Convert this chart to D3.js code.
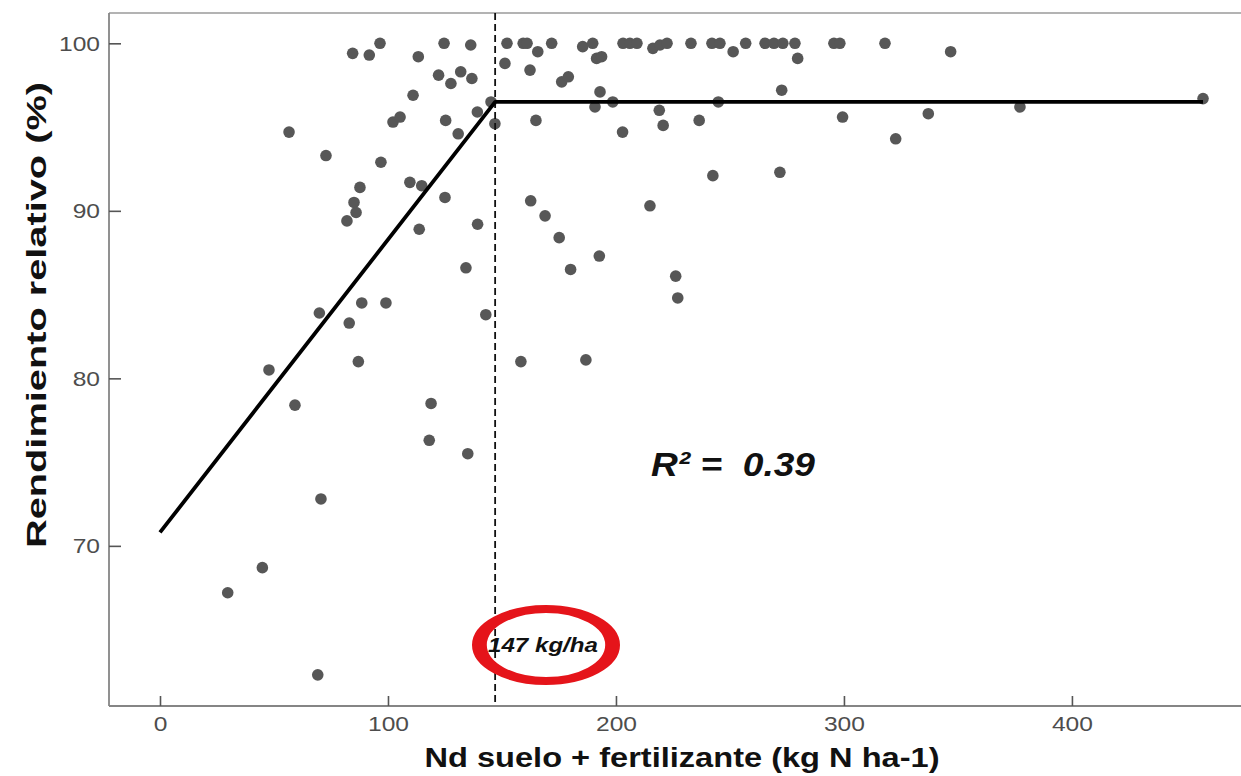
<!DOCTYPE html>
<html>
<head>
<meta charset="utf-8">
<script src="https://cdn.jsdelivr.net/npm/d3@7"></script>
<style>
  html, body { margin: 0; padding: 0; background: #ffffff; }
  svg { display: block; font-family: "Liberation Sans", Arial, Helvetica, sans-serif; }
</style>
</head>
<body>
<svg id="chart" width="1241" height="776"></svg>
<script>
// ---- data ----
const ndValues = [
  84.5, 91.8, 96.5, 113.3, 124.6, 136.3, 152.2, 159.3, 161.0, 165.7,
  171.8, 185.4, 189.8, 191.5, 193.7, 203.1, 206.1, 209.2, 216.2, 219.3,
  222.4, 232.9, 242.1, 245.6, 251.4, 256.9, 265.4, 269.3, 273.2, 278.5,
  279.7, 295.6, 298.2, 318.0, 346.8,
  111.0, 102.2, 105.3, 122.2, 127.6, 131.9, 136.8, 151.3, 162.3, 176.2,
  179.1, 193.0, 190.8, 198.6, 219.0, 220.7, 202.9, 164.9, 146.9, 145.2,
  139.2, 125.3, 130.8, 244.9, 236.5, 272.7, 299.4, 337.0, 322.7, 377.2,
  457.5, 56.6,
  72.8, 96.9, 87.7, 85.1, 86.0, 82.0, 109.6, 114.8, 125.0, 113.7,
  139.3, 134.2, 88.5, 99.1, 69.9, 83.0, 142.9, 87.0, 158.3, 186.8,
  47.8, 59.2, 118.9, 118.1, 135.0, 70.6, 44.9, 29.7, 69.2,
  162.6, 168.9, 175.1, 192.7, 180.1, 214.9, 226.2, 227.1, 242.5, 271.9
];
const rendValues = [
  99.4, 99.3, 100.0, 99.2, 100.0, 99.9, 100.0, 100.0, 100.0, 99.5,
  100.0, 99.8, 100.0, 99.1, 99.2, 100.0, 100.0, 100.0, 99.7, 99.9,
  100.0, 100.0, 100.0, 100.0, 99.5, 100.0, 100.0, 100.0, 100.0, 100.0,
  99.1, 100.0, 100.0, 100.0, 99.5,
  96.9, 95.3, 95.6, 98.1, 97.6, 98.3, 97.9, 98.8, 98.4, 97.7,
  98.0, 97.1, 96.2, 96.5, 96.0, 95.1, 94.7, 95.4, 95.2, 96.5,
  95.9, 95.4, 94.6, 96.5, 95.4, 97.2, 95.6, 95.8, 94.3, 96.2,
  96.7, 94.7,
  93.3, 92.9, 91.4, 90.5, 89.9, 89.4, 91.7, 91.5, 90.8, 88.9,
  89.2, 86.6, 84.5, 84.5, 83.9, 83.3, 83.8, 81.0, 81.0, 81.1,
  80.5, 78.4, 78.5, 76.3, 75.5, 72.8, 68.7, 67.2, 62.3,
  90.6, 89.7, 88.4, 87.3, 86.5, 90.3, 86.1, 84.8, 92.1, 92.3
];
// fitted linear-plateau model
const fitX = [0, 147, 457.5];
const fitY = [70.8, 96.5, 96.5];
const breakPoint = 147;
const xTicks = [0, 100, 200, 300, 400];
const yTicks = [70, 80, 90, 100];
const xTitle = "Nd suelo + fertilizante (kg N ha-1)";
const yTitle = "Rendimiento relativo (%)";
const r2Label = "R\u00B2 =  0.39";
const breakLabel = "147 kg/ha";

// ---- layout ----
const svg = d3.select("#chart");
const panel = { left: 109, right: 1255, top: 13, bottom: 706 };

const x = d3.scaleLinear().domain([-22.37, 480.3]).range([panel.left, panel.right]);
const y = d3.scaleLinear().domain([60.44, 101.81]).range([panel.bottom, panel.top]);

svg.append("rect").attr("width", 1241).attr("height", 776).attr("fill", "#ffffff");

// top border of panel
svg.append("line")
  .attr("x1", panel.left).attr("x2", panel.right)
  .attr("y1", panel.top).attr("y2", panel.top)
  .attr("stroke", "#9a9a9a").attr("stroke-width", 1.6);

// axes
const stretch = 1.17;
const xAxis = svg.append("g")
  .attr("transform", `translate(0,${panel.bottom})`)
  .call(d3.axisBottom(x).tickValues(xTicks).tickSizeInner(-10).tickSizeOuter(0).tickPadding(10));
const yAxis = svg.append("g")
  .attr("transform", `translate(${panel.left},0)`)
  .call(d3.axisLeft(y).tickValues(yTicks).tickSizeInner(-12).tickSizeOuter(0).tickPadding(9));

[xAxis, yAxis].forEach(g => {
  g.select(".domain").attr("stroke", "#858585").attr("stroke-width", 1.8);
  g.selectAll(".tick line").attr("stroke", "#555555").attr("stroke-width", 1.6);
  g.selectAll(".tick text")
    .attr("fill", "#4d4d4d")
    .attr("font-size", 21)
    .attr("font-family", "Liberation Sans, Arial, sans-serif")
    .each(function() {
      const len = this.getComputedTextLength();
      d3.select(this).attr("textLength", len * stretch).attr("lengthAdjust", "spacingAndGlyphs");
    });
});
// extend domain lines to full panel
xAxis.select(".domain").attr("d", `M${panel.left},0H${panel.right}`);
yAxis.select(".domain").attr("d", `M0,${panel.top}V${panel.bottom}`);

// clip for data
svg.append("clipPath").attr("id", "clip")
  .append("rect").attr("x", panel.left).attr("y", panel.top)
  .attr("width", panel.right - panel.left).attr("height", panel.bottom - panel.top);
const plot = svg.append("g").attr("clip-path", "url(#clip)");

// points
const pts = ndValues.map((v, i) => ({ nd: v, rend: rendValues[i] }));
plot.append("g").selectAll("circle").data(pts).join("circle")
  .attr("cx", d => x(d.nd))
  .attr("cy", d => y(d.rend))
  .attr("r", 5.8)
  .attr("fill", "#575757");

// dashed break line
plot.append("line")
  .attr("x1", x(breakPoint)).attr("x2", x(breakPoint))
  .attr("y1", panel.top).attr("y2", panel.bottom)
  .attr("stroke", "#111111").attr("stroke-width", 1.8)
  .attr("stroke-dasharray", "7,4");

// fitted line
const fit = fitX.map((v, i) => [v, fitY[i]]);
plot.append("path")
  .attr("d", d3.line().x(d => x(d[0])).y(d => y(d[1]))(fit))
  .attr("fill", "none").attr("stroke", "#000000").attr("stroke-width", 3.8)
  .attr("stroke-linejoin", "round");

// R2 label
svg.append("text")
  .attr("x", 651).attr("y", 476)
  .attr("font-size", 34).attr("font-weight", "bold").attr("font-style", "italic")
  .attr("fill", "#111111")
  .attr("textLength", 164).attr("lengthAdjust", "spacingAndGlyphs")
  .style("white-space", "pre")
  .text(r2Label);

// highlighted break label
svg.append("text")
  .attr("x", 488).attr("y", 652)
  .attr("font-size", 20).attr("font-weight", "bold").attr("font-style", "italic")
  .attr("fill", "#111111")
  .attr("textLength", 110).attr("lengthAdjust", "spacingAndGlyphs")
  .text(breakLabel);

svg.append("circle")
  .attr("transform", "translate(546,645) scale(1.85,1)")
  .attr("r", 36)
  .attr("fill", "none")
  .attr("stroke", "#e5141a")
  .attr("stroke-width", 8);

// axis titles
svg.append("text")
  .attr("x", 682).attr("y", 767)
  .attr("text-anchor", "middle")
  .attr("font-size", 28).attr("font-weight", "bold")
  .attr("fill", "#111111")
  .attr("textLength", 515).attr("lengthAdjust", "spacingAndGlyphs")
  .text(xTitle);

svg.append("text")
  .attr("transform", "translate(46,315) rotate(-90)")
  .attr("text-anchor", "middle")
  .attr("font-size", 28).attr("font-weight", "bold")
  .attr("fill", "#111111")
  .attr("textLength", 466).attr("lengthAdjust", "spacingAndGlyphs")
  .text(yTitle);
</script>
</body>
</html>
